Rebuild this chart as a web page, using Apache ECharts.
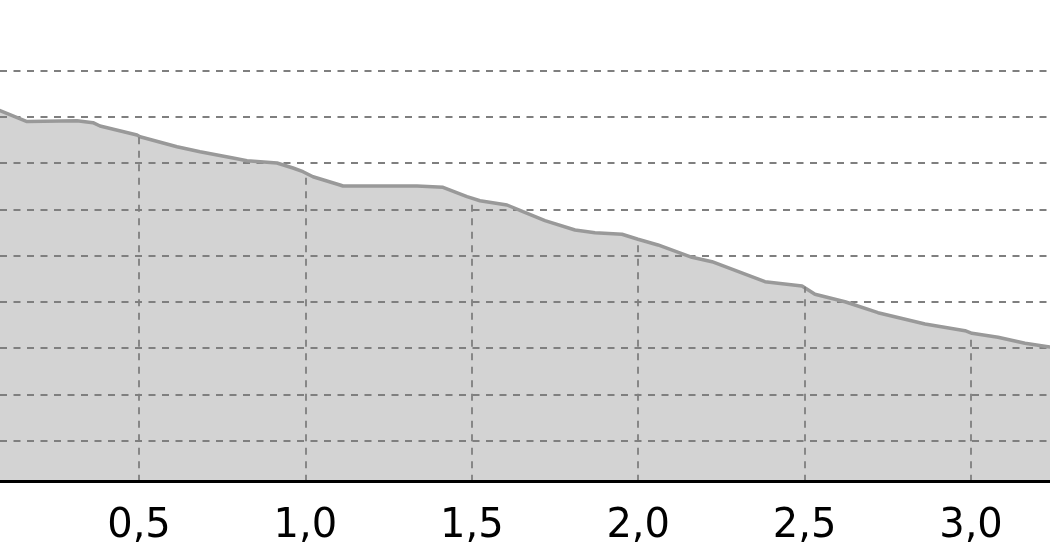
<!DOCTYPE html>
<html>
<head>
<meta charset="utf-8">
<script src="https://cdn.jsdelivr.net/npm/echarts@6/dist/echarts.min.js"></script>
<style>
html,body{margin:0;padding:0;background:#fff;}
#chart{width:1050px;height:560px;}
</style>
</head>
<body>
<div id="chart"></div>
<script>
// curve readings (x in axis units, y in grid-line units)
var curveX = [0.07, 0.0823, 0.1635, 0.3137, 0.3618, 0.3828, 0.4940, 0.5030, 0.6142, 0.6833, 0.7825, 0.8245, 0.9147, 0.9627, 0.9928, 1.0228, 1.1040, 1.1130, 1.3353, 1.4135, 1.4856, 1.5246, 1.6058, 1.6538, 1.7199, 1.8101, 1.8702, 1.9513, 1.9993, 2.0595, 2.1616, 2.2217, 2.3810, 2.4922, 2.5312, 2.6214, 2.7206, 2.8618, 2.9820, 3.0030, 3.0811, 3.1623, 3.2314, 3.25];
var curveY = [7.17, 7.135, 6.899, 6.919, 6.876, 6.804, 6.609, 6.573, 6.357, 6.249, 6.112, 6.054, 6.004, 5.896, 5.816, 5.708, 5.529, 5.507, 5.507, 5.479, 5.276, 5.189, 5.096, 4.951, 4.757, 4.555, 4.497, 4.463, 4.355, 4.232, 3.965, 3.870, 3.438, 3.345, 3.165, 3.005, 2.768, 2.523, 2.378, 2.322, 2.236, 2.106, 2.032, 2.01];
// tick positions / labels on the x axis
var tickValues = [0.5, 1.0, 1.5, 2.0, 2.5, 3.0];
// heights of the vertical drop lines at the ticks, up to the curve
var dropY = [6.58, 5.80, 5.22, 4.35, 3.33, 2.32];
var gridMin = 0, gridMax = 8, gridStep = 1;
var baseValue = -0.8865;
var xMin = 0.0823, xMax = 3.2374;

var pts = curveX.map(function (x, i) { return [x, curveY[i]]; });
var drops = tickValues.map(function (x, i) {
  return [{ coord: [x, baseValue] }, { coord: [x, dropY[i]] }];
});

var chart = echarts.init(document.getElementById('chart'), null, { renderer: 'canvas' });
chart.setOption({
  animation: false,
  backgroundColor: '#ffffff',
  grid: [
    { left: 0, right: 0, top: 70.7, bottom: 119.3, containLabel: false },
    { left: 0, right: 0, top: 70.7, bottom: 78.3, containLabel: false }
  ],
  xAxis: [
    { gridIndex: 0, type: 'value', min: xMin, max: xMax, show: false },
    {
      gridIndex: 1, type: 'value', min: xMin, max: xMax, z: 5,
      axisLine: { show: true, onZero: false, lineStyle: { color: '#000', width: 3 } },
      axisTick: { show: false },
      splitLine: { show: false },
      axisLabel: {
        show: true, customValues: tickValues, margin: 24.5,
        color: '#000', fontFamily: 'DejaVu Sans', fontSize: 40,
        formatter: function (v) { return Number(v).toFixed(1).replace('.', ','); }
      }
    }
  ],
  yAxis: [
    {
      gridIndex: 0, type: 'value', min: gridMin, max: gridMax, interval: gridStep, z: 3,
      axisLine: { show: false }, axisTick: { show: false }, axisLabel: { show: false },
      splitLine: { show: true, lineStyle: { color: '#7f7f7f', width: 1.8, type: [7, 6.5] } }
    },
    {
      gridIndex: 1, type: 'value', min: baseValue, max: gridMax, show: false
    }
  ],
  series: [
    {
      type: 'line', xAxisIndex: 1, yAxisIndex: 1, data: pts, z: 1,
      symbol: 'none', silent: true,
      lineStyle: { width: 0, opacity: 0 },
      areaStyle: { color: '#d3d3d3', opacity: 1, origin: 'start' },
      markLine: {
        silent: true, symbol: 'none', label: { show: false },
        lineStyle: { color: '#7f7f7f', width: 1.8, type: [7, 6.5] },
        data: drops
      }
    },
    {
      type: 'line', xAxisIndex: 1, yAxisIndex: 1, data: pts, z: 4,
      symbol: 'none', silent: true,
      lineStyle: { color: '#999999', width: 3.5 }
    }
  ]
});
</script>
</body>
</html>
